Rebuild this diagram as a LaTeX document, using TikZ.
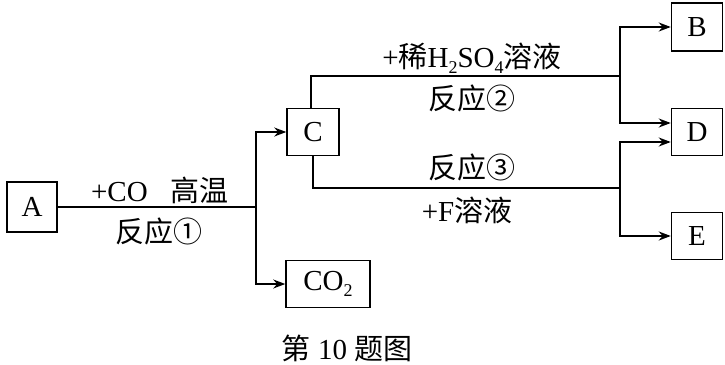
\documentclass[tikz,border=0pt]{standalone}
\usepackage{fontspec}
\setmainfont{Liberation Serif}
\newfontfamily\cjk{Noto Sans CJK SC}
\usetikzlibrary{arrows.meta}
\newcommand{\mysub}[1]{\raisebox{-0.22em}{\fontsize{18pt}{18pt}\selectfont #1}}
\begin{document}
\begin{tikzpicture}[x=1pt,y=-1pt,
  box/.style={draw,line width=1.5pt,minimum height=47pt,inner sep=0pt,font=\fontsize{29pt}{31pt}\selectfont},
  lbl/.style={font=\fontsize{29pt}{31pt}\selectfont,inner sep=0pt},
  conn/.style={line width=1.5pt},
  arr/.style={conn,-{Stealth[length=12pt,width=9pt]}}]
\useasboundingbox (0,0) rectangle (725,364);
\node[box,minimum width=50pt,minimum height=50pt] (A) at (32,207) {A};
\node[box,minimum width=52pt] (C) at (313,132) {C};
\node[box,minimum width=84pt] (CO2) at (328,284) {CO\mysub{2}};
\node[box,minimum width=51pt,minimum height=48pt] (B) at (697,27) {B};
\node[box,minimum width=51pt] (D) at (697,132) {D};
\node[box,minimum width=51pt] (E) at (697,236) {E};
\coordinate (j1) at (256,207);
\coordinate (j2) at (620,76);
\coordinate (j3) at (620,188);
\draw[conn] (A.east) -- (j1);
\draw[arr] (j1) |- (C.west);
\draw[arr] (j1) |- (CO2.west);
\draw[conn] ([xshift=-2pt]C.north) |- (j2);
\draw[arr] (j2) |- (B.west);
\draw[arr] (j2) |- ([yshift=9pt]D.west);
\draw[conn] (C.south) |- (j3);
\draw[arr] (j3) |- ([yshift=-10pt]D.west);
\draw[arr] (j3) |- (E.west);
\node[lbl] (l1) at (160,190) {+CO\hspace{0.8em}{\cjk 高温}};
\node[lbl] (l2) at (159,231) {\cjk 反应①};
\node[lbl] (l3) at (472,58) {+{\cjk 稀}H\mysub{2}SO\mysub{4}{\cjk 溶液}};
\node[lbl] (l4) at (472,98) {\cjk 反应②};
\node[lbl] (l5) at (472,167) {\cjk 反应③};
\node[lbl] (l6) at (467,210) {+F{\cjk 溶液}};
\node[lbl] (cap) at (347,348) {{\cjk 第}\hspace{0.25em}10\hspace{0.25em}{\cjk 题图}};
\end{tikzpicture}
\end{document}
